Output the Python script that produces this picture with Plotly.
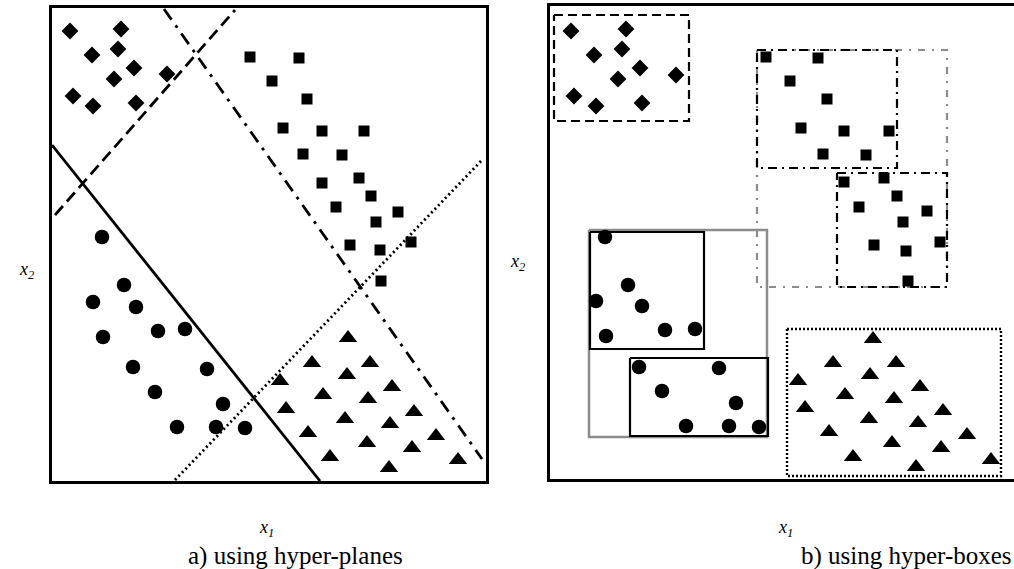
import plotly.graph_objects as go

W, H = 1014, 569

# ---------- panel a) hyper-planes ----------
a_diamond_x = [18, 69, 40, 66, 82, 62, 115, 21, 41, 84]
a_diamond_y = [450, 452, 426, 432, 413, 402, 407, 385, 375, 378]

a_square_x = [198, 247, 220, 255, 231, 270, 312, 251, 290, 270, 307, 319, 284, 346, 324, 359, 298, 328, 329]
a_square_y = [424, 423, 400, 382, 353, 350, 350, 327, 326, 298, 303, 285, 274, 269, 259, 239, 236, 231, 200]

a_circle_x = [50, 72, 41, 84, 51, 106, 133, 81, 155, 103, 171, 125, 164, 193]
a_circle_y = [244, 196, 179, 174, 144, 150, 152, 114, 112, 89, 77, 54, 54, 53]

a_tri_x = [296, 260, 318, 295, 228, 340, 271, 316, 234, 362, 293, 338, 256, 384, 315, 360, 278, 406, 337]
a_tri_y = [143, 118, 118, 106, 100, 94, 86, 82, 72, 69, 62, 57, 48, 45, 38, 33, 24, 21, 13]

# separating hyper-planes: (x start, y start, x end, y end)
plane_solid = [0, 336, 268, 0]
plane_dash = [3, 266, 183, 471]
plane_dashdot = [112, 472, 430, 22]
plane_dot = [123, 1, 431, 322]

# ---------- panel b) hyper-boxes ----------
b_diamond_x = [21, 76, 44, 72, 90, 68, 126, 24, 46, 92]
b_diamond_y = [448, 450, 424, 430, 411, 400, 404, 383, 373, 376]

b_square_x = [216, 268, 240, 277, 251, 294, 339, 273, 316, 294, 334, 347, 309, 377, 353, 390, 324, 356, 358]
b_square_y = [422, 421, 398, 380, 351, 348, 348, 325, 324, 297, 301, 283, 272, 268, 257, 237, 234, 228, 198]

b_circle_x = [55, 78, 46, 92, 56, 115, 145, 89, 169, 112, 186, 136, 179, 209]
b_circle_y = [242, 194, 178, 173, 143, 149, 150, 112, 111, 88, 76, 53, 53, 52]

b_tri_x = [323, 283, 346, 320, 248, 370, 295, 344, 255, 393, 319, 368, 279, 417, 342, 391, 303, 441, 366]
b_tri_y = [140, 116, 116, 104, 98, 92, 84, 80, 71, 68, 60, 56, 47, 44, 36, 31, 22, 19, 12]

# hyper-boxes: (x min, x max, y min, y max)
box_diamond = [4, 139, 358, 464]
box_square_gray = [207, 397, 192, 429]
box_square_top = [207, 347, 311, 429]
box_square_low = [287, 397, 192, 306]
box_circle_gray = [39, 217, 42, 249]
box_circle_top = [40, 154, 130, 247]
box_circle_low = [80, 218, 43, 121]
box_triangle = [237, 451, 3, 150]

A_RANGE_X, A_RANGE_Y = [0, 434], [0, 473]
B_RANGE_X, B_RANGE_Y = [0, 464], [0, 473]

fig = go.Figure()


def points(x, y, symbol, size, ax):
    fig.add_trace(go.Scatter(
        x=x, y=y, mode="markers", xaxis=ax[0], yaxis=ax[1],
        marker=dict(symbol=symbol, size=size, color="black", line=dict(width=0)),
        showlegend=False, hoverinfo="skip", cliponaxis=False))


def segment(p, dash, ax, color="black", width=2.5):
    fig.add_trace(go.Scatter(
        x=[p[0], p[2]], y=[p[1], p[3]], mode="lines", xaxis=ax[0], yaxis=ax[1],
        line=dict(color=color, width=width, dash=dash),
        showlegend=False, hoverinfo="skip"))


def box(b, dash, ax, color="black", width=2.2):
    x0, x1, y0, y1 = b
    fig.add_trace(go.Scatter(
        x=[x0, x1, x1, x0, x0], y=[y1, y1, y0, y0, y1], mode="lines",
        xaxis=ax[0], yaxis=ax[1],
        line=dict(color=color, width=width, dash=dash),
        showlegend=False, hoverinfo="skip", cliponaxis=False))


A = ("x", "y")
B = ("x2", "y2")

# panel a
segment(plane_solid, "solid", A, width=2.8)
segment(plane_dash, "12px,6px", A, width=2.8)
segment(plane_dashdot, "13px,7px,3px,7px", A, width=2.8)
segment(plane_dot, "2px,3px", A, width=2.8)
points(a_diamond_x, a_diamond_y, "diamond", 13, A)
points(a_square_x, a_square_y, "square", 11, A)
points(a_circle_x, a_circle_y, "circle", 14.5, A)
points(a_tri_x, a_tri_y, "triangle-up", 16, A)

# panel b
box(box_diamond, "9px,5px", B)
box(box_square_gray, "7px,7px,2px,7px", B, color="#8c8c8c")
box(box_square_top, "9px,5px,2px,5px", B)
box(box_square_low, "9px,5px,2px,5px", B)
box(box_circle_gray, "solid", B, color="#8c8c8c", width=2.5)
box(box_circle_top, "solid", B)
box(box_circle_low, "solid", B)
box(box_triangle, "2px,2px", B, width=2.4)
points(b_diamond_x, b_diamond_y, "diamond", 13, B)
points(b_square_x, b_square_y, "square", 11, B)
points(b_circle_x, b_circle_y, "circle", 14.5, B)
points(b_tri_x, b_tri_y, "triangle-up", 16, B)

frame = dict(showline=True, linecolor="black", linewidth=2.5, showgrid=False,
             zeroline=False, showticklabels=False, ticks="", fixedrange=True)

fig.update_layout(
    width=W, height=H,
    margin=dict(l=0, r=0, t=0, b=0),
    paper_bgcolor="white", plot_bgcolor="white",
    xaxis=dict(domain=[52 / W, 486 / W], range=A_RANGE_X, mirror=True, anchor="y", **frame),
    yaxis=dict(domain=[(H - 481) / H, (H - 8) / H], range=A_RANGE_Y, mirror=True, anchor="x", **frame),
    xaxis2=dict(domain=[550 / W, 1.0], range=B_RANGE_X, mirror=True, anchor="y2", **frame),
    yaxis2=dict(domain=[(H - 479) / H, (H - 6) / H], range=B_RANGE_Y, mirror=False, anchor="x2", **frame),
)

serif = "Liberation Serif, Times New Roman, serif"
labels = [
    ("<i>x</i><sub><i>2</i></sub>", 27, 270, 18),
    ("<i>x</i><sub><i>2</i></sub>", 518, 262, 18),
    ("<i>x</i><sub><i>1</i></sub>", 266, 528, 18),
    ("<i>x</i><sub><i>1</i></sub>", 785, 528, 18),
    ("a) using hyper-planes", 295, 556, 25),
    ("b) using hyper-boxes", 906, 556, 25),
]
for text, px, py, size in labels:
    fig.add_annotation(text=text, x=px / W, y=1 - py / H, xref="paper", yref="paper",
                       xanchor="center", yanchor="middle", showarrow=False,
                       font=dict(family=serif, size=size, color="black"))

fig.write_html("out.html")
